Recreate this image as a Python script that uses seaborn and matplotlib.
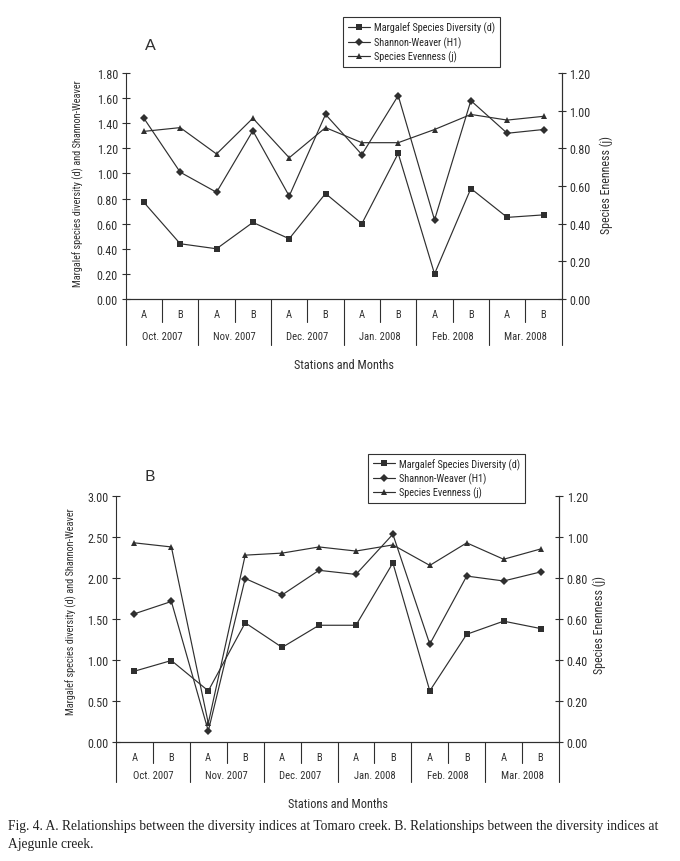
import numpy as np
import pandas as pd
import matplotlib
matplotlib.use("Agg")
import matplotlib.pyplot as plt
import matplotlib.transforms as mtransforms
import seaborn as sns

sns.set_style("ticks")
plt.rcParams["font.family"] = ["Roboto Condensed", "Lato", "DejaVu Sans"]

# ── datos ─────────────────────────────────────────────────────────────────────
MONTHS   = ["Oct. 2007", "Nov. 2007", "Dec. 2007", "Jan. 2008", "Feb. 2008", "Mar. 2008"]
STATIONS = ["A", "B"]

A_margalef = [0.77, 0.44, 0.40, 0.61, 0.48, 0.84, 0.60, 1.16, 0.20, 0.88, 0.65, 0.67]
A_shannon  = [1.44, 1.01, 0.85, 1.34, 0.82, 1.47, 1.15, 1.62, 0.63, 1.58, 1.32, 1.35]
A_even     = [0.89, 0.91, 0.77, 0.96, 0.75, 0.91, 0.83, 0.83, 0.90, 0.98, 0.95, 0.97]

B_margalef = [0.86, 0.99, 0.62, 1.45, 1.15, 1.42, 1.42, 2.18, 0.62, 1.31, 1.47, 1.38]
B_shannon  = [1.56, 1.71, 0.13, 1.99, 1.79, 2.09, 2.04, 2.53, 1.19, 2.02, 1.96, 2.07]
B_even     = [0.97, 0.95, 0.09, 0.91, 0.92, 0.95, 0.93, 0.96, 0.86, 0.97, 0.89, 0.94]

LABELS = ["Margalef Species Diversity (d)", "Shannon-Weaver (H1)", "Species Evenness (j)"]
LEFT_LABEL  = "Margalef species diversity (d) and Shannon-Weaver"
RIGHT_LABEL = "Species Enenness (j)"

INK = "#2f2f2f"
W, H = 680, 862


def px(x, y):
    return x / W, 1 - y / H


def panel(fig, box, letter, margalef, shannon, even, ymax, ystep,
          leg_xy, letter_xy, ylab_l, ylab_r, lay):
    x0, y0, x1, y1 = box
    ax = fig.add_axes([x0 / W, 1 - y1 / H, (x1 - x0) / W, (y1 - y0) / H])
    ax2 = ax.twinx()
    pos = np.arange(len(MONTHS) * len(STATIONS))
    df = pd.DataFrame({"pos": pos, "d": margalef, "h": shannon, "j": even})

    sns.lineplot(data=df, x="pos", y="d", ax=ax, color=INK, lw=0.85,
                 marker="s", markersize=4.3, markeredgewidth=0, label=LABELS[0])
    sns.lineplot(data=df, x="pos", y="h", ax=ax, color=INK, lw=0.85,
                 marker="D", markersize=3.7, markeredgewidth=0, label=LABELS[1])
    sns.lineplot(data=df, x="pos", y="j", ax=ax2, color=INK, lw=0.85,
                 marker="^", markersize=4.8, markeredgewidth=0, label=LABELS[2])

    h1, l1 = ax.get_legend_handles_labels()
    h2, l2 = ax2.get_legend_handles_labels()
    for a in (ax, ax2):
        if a.get_legend() is not None:
            a.get_legend().remove()
    leg = ax.legend(h1 + h2, l1 + l2, loc="upper left", bbox_to_anchor=px(*leg_xy),
                    bbox_transform=fig.transFigure, fontsize=7.4, frameon=True,
                    fancybox=False, edgecolor="black", handlelength=2.2,
                    handletextpad=0.35, labelspacing=0.28, borderpad=0.45,
                    borderaxespad=0)
    leg.get_frame().set_linewidth(0.8)

    ax.set_xlim(-0.5, len(pos) - 0.5)
    ax.set_ylim(0, ymax)
    ax.set_yticks(np.arange(0, ymax + 1e-9, ystep))
    ax.set_yticklabels([f"{v:.2f}" for v in np.arange(0, ymax + 1e-9, ystep)])
    ax2.set_ylim(0, 1.2)
    ax2.set_yticks(np.arange(0, 1.21, 0.2))
    ax2.set_yticklabels([f"{v:.2f}" for v in np.arange(0, 1.21, 0.2)])
    ax.set_xticks([])
    ax.set_xlabel("")
    ax.set_ylabel("")
    ax2.set_xlabel("")
    ax2.set_ylabel("")

    for a in (ax, ax2):
        a.spines["top"].set_visible(False)
        for s in a.spines.values():
            s.set_color(INK)
            s.set_linewidth(0.8)
        a.tick_params(axis="y", direction="inout", length=6, width=0.8,
                      colors=INK, labelsize=8.7, pad=2.5)
    ax2.spines["left"].set_visible(False)

    fig.text(*px(*ylab_l), LEFT_LABEL, rotation=90, fontsize=7.4, color=INK,
             ha="center", va="center")
    fig.text(*px(*ylab_r), RIGHT_LABEL, rotation=90, fontsize=8.6, color=INK,
             ha="center", va="center")

    # tabla de categorías bajo el eje
    tr = mtransforms.blended_transform_factory(ax.transData, ax.transAxes)
    short_y, long_y, st_y, mo_y, xl_y = lay
    for i in range(len(pos) + 1):
        xb = i - 0.5
        y_end = long_y if i % 2 == 0 else short_y
        ax.plot([xb, xb], [0, y_end], transform=tr, color=INK, lw=0.8, clip_on=False)
    for i, p in enumerate(pos):
        ax.text(p, st_y, STATIONS[i % 2], transform=tr, ha="center", va="center",
                fontsize=7.6, color=INK)
    for m, name in enumerate(MONTHS):
        ax.text(2 * m + 0.5, mo_y, name, transform=tr, ha="center", va="center",
                fontsize=7.7, color=INK)
    ax.text(0.5, xl_y, "Stations and Months", transform=ax.transAxes,
            ha="center", va="center", fontsize=8.8, color=INK)

    fig.text(*px(*letter_xy), letter, fontsize=11.5, color=INK,
             family=["Lato", "DejaVu Sans"], ha="center", va="center")
    return ax


fig = plt.figure(figsize=(W / 100, H / 100), dpi=100)

panel(fig, (125.7, 74, 561.7, 300), "A", A_margalef, A_shannon, A_even,
      1.8, 0.2, (343, 18.3), (150, 46), (78, 183.5), (606, 185),
      (-0.102, -0.204, -0.066, -0.164, -0.292))
panel(fig, (116, 496.7, 559, 742.7), "B", B_margalef, B_shannon, B_even,
      3.0, 0.5, (368, 454.5), (150, 477), (71.5, 612), (599, 625),
      (-0.085, -0.162, -0.061, -0.135, -0.253))

cap_font = ["Liberation Serif", "DejaVu Serif"]
fig.text(*px(8, 827),
         "Fig. 4. A. Relationships between the diversity indices at Tomaro creek. "
         "B. Relationships between the diversity indices at",
         family=cap_font, fontsize=9.75, ha="left", va="center", color="#222222")
fig.text(*px(8, 845), "Ajegunle creek.",
         family=cap_font, fontsize=9.75, ha="left", va="center", color="#222222")

plt.savefig("out.png", dpi=100)
plt.close()
